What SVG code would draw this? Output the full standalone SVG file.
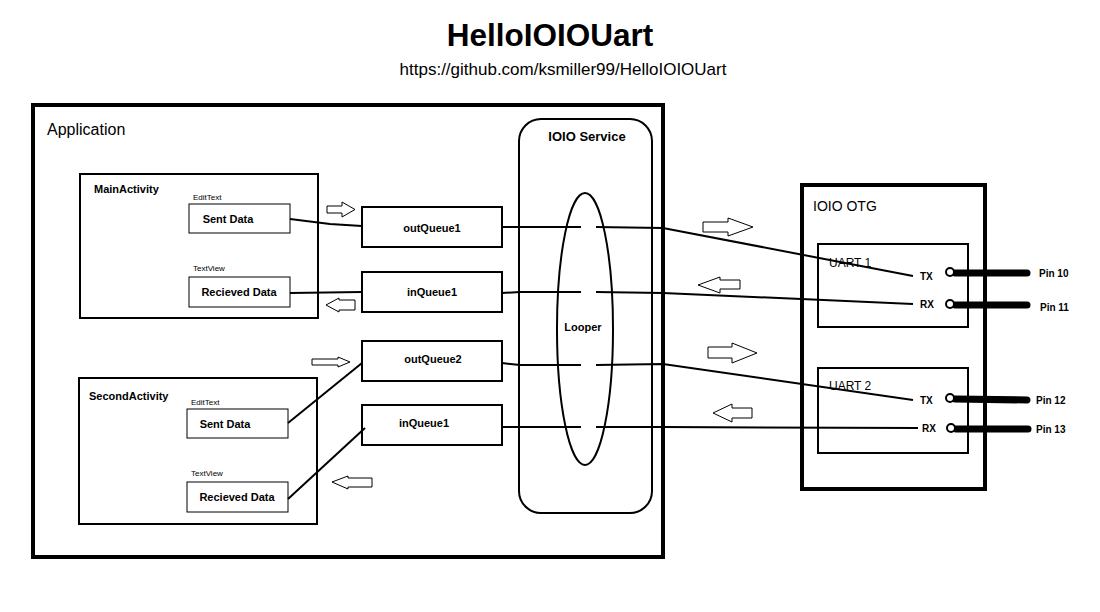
<svg xmlns="http://www.w3.org/2000/svg" width="1100" height="612" viewBox="0 0 1100 612">
<style>
text{font-family:"Liberation Sans",Arial,sans-serif;fill:#000}
.b{font-weight:bold}
.box{fill:#fff;stroke:#000;stroke-width:2}
.thin{fill:#fff;stroke:#000;stroke-width:1}
.heavy{fill:none;stroke:#000;stroke-width:4}
.ln{fill:none;stroke:#000;stroke-width:2}
.arr{fill:#fff;stroke:#000;stroke-width:1}
.pin{stroke:#000;stroke-width:7;stroke-linecap:round}
.dot{fill:#fff;stroke:#000;stroke-width:2}
.s11{font-size:11px}
.s8{font-size:8px}
</style>
<rect width="1100" height="612" fill="#fff"/>
<text x="550" y="46" text-anchor="middle" class="b" font-size="31.5">HelloIOIOUart</text>
<text x="563" y="75" text-anchor="middle" font-size="17">https://github.com/ksmiller99/HelloIOIOUart</text>

<g id="application">
<rect x="33" y="105" width="630" height="452" class="heavy"/>
<text x="47" y="135" font-size="16">Application</text>
</g>

<g id="mainactivity">
<rect x="80" y="174" width="238" height="144" class="box"/>
<text x="94" y="193" class="b s11">MainActivity</text>
<text x="193" y="200" class="s8">EditText</text>
<rect x="189" y="204" width="101" height="29" class="thin"/>
<text x="228" y="223" text-anchor="middle" class="b s11">Sent Data</text>
<text x="193" y="271" class="s8">TextView</text>
<rect x="189" y="277" width="101" height="30" class="thin"/>
<text x="239" y="296" text-anchor="middle" class="b s11">Recieved Data</text>
</g>

<g id="secondactivity">
<rect x="79" y="378" width="238" height="146" class="box"/>
<text x="89" y="400" class="b s11">SecondActivity</text>
<text x="191" y="405" class="s8">EditText</text>
<rect x="187" y="409" width="101" height="29" class="thin"/>
<text x="225" y="428" text-anchor="middle" class="b s11">Sent Data</text>
<text x="191" y="476" class="s8">TextView</text>
<rect x="187" y="482" width="101" height="30" class="thin"/>
<text x="237" y="501" text-anchor="middle" class="b s11">Recieved Data</text>
</g>

<g id="queues">
<g id="outQueue1"><rect x="362" y="207" width="140" height="40" class="box"/><text x="432" y="232" text-anchor="middle" class="b s11">outQueue1</text></g>
<g id="inQueue1a"><rect x="362" y="272" width="140" height="40" class="box"/><text x="432" y="296" text-anchor="middle" class="b s11">inQueue1</text></g>
<g id="outQueue2"><rect x="362" y="341" width="140" height="40" class="box"/><text x="433" y="363" text-anchor="middle" class="b s11">outQueue2</text></g>
<g id="inQueue1b"><rect x="362" y="405" width="140" height="40" class="box"/><text x="424" y="427" text-anchor="middle" class="b s11">inQueue1</text></g>
</g>

<g id="ioio-service">
<rect x="519" y="119" width="133" height="394" rx="22" ry="22" fill="none" stroke="#000" stroke-width="2"/>
<text x="587" y="141" text-anchor="middle" class="b" font-size="13">IOIO Service</text>
<ellipse cx="585" cy="329" rx="28" ry="136" fill="none" stroke="#000" stroke-width="2"/>
<text x="583" y="331" text-anchor="middle" class="b s11">Looper</text>
</g>

<g id="ioio-otg">
<rect x="802" y="185" width="183" height="304" class="heavy"/>
<text x="813" y="211" font-size="14">IOIO OTG</text>
<g id="uart1">
<rect x="818" y="244" width="150" height="83" class="box"/>
<text x="829" y="267" font-size="12">UART 1</text>
<text x="920" y="280" class="b" font-size="10">TX</text>
<text x="920" y="308" class="b" font-size="10">RX</text>
<line x1="955" y1="273" x2="1027" y2="273" class="pin"/>
<line x1="955" y1="305" x2="1027" y2="305" class="pin"/>
<circle cx="950" cy="272" r="4" class="dot"/>
<circle cx="950" cy="304" r="4" class="dot"/>
<text x="1039" y="277" class="b" font-size="10">Pin 10</text>
<text x="1040" y="311" class="b" font-size="10">Pin 11</text>
</g>
<g id="uart2">
<rect x="818" y="368" width="150" height="85" class="box"/>
<text x="829" y="390" font-size="12">UART 2</text>
<text x="920" y="404" class="b" font-size="10">TX</text>
<text x="922" y="432" class="b" font-size="10">RX</text>
<line x1="955" y1="399" x2="1027" y2="400" class="pin"/>
<line x1="956" y1="429" x2="1028" y2="429" class="pin"/>
<circle cx="950" cy="398" r="4" class="dot"/>
<circle cx="951" cy="428" r="4" class="dot"/>
<text x="1036" y="404" class="b" font-size="10">Pin 12</text>
<text x="1036" y="433" class="b" font-size="10">Pin 13</text>
</g>
</g>

<g id="connectors">
<polyline points="290,219 330,224 362,226" class="ln"/>
<line x1="290" y1="293" x2="362" y2="292" class="ln"/>
<line x1="288" y1="423" x2="362" y2="363" class="ln"/>
<line x1="288" y1="499" x2="365" y2="428" class="ln"/>
<line x1="502" y1="227" x2="581" y2="227" class="ln"/>
<polyline points="596,227 663,228 913,276" class="ln"/>
<polyline points="502,293 520,292 581,292" class="ln"/>
<polyline points="596,292 663,293 913,304" class="ln"/>
<polyline points="502,363 520,365 581,365" class="ln"/>
<polyline points="596,365 663,364 913,400" class="ln"/>
<line x1="502" y1="427" x2="581" y2="427" class="ln"/>
<polyline points="596,427 663,427 918,428" class="ln"/>
</g>

<g id="flow-arrows">
<polygon points="327,206 342,206 342,202 355,209.5 342,217 342,213 327,213" class="arr"/>
<polygon points="326,305 339,298 339,300 355,300 355,310 339,310 339,312" class="arr"/>
<polygon points="312,359 338,359 338,357 350,362 338,367 338,365 312,365" class="arr"/>
<polygon points="332,482 348,476 348,478 372,478 372,487 348,487 348,489" class="arr"/>
<polygon points="703,222 728,222 728,218 753,227 728,236 728,232 703,232" class="arr" stroke-width="2"/>
<polygon points="698,285 720,277 720,280 740,280 740,289 720,289 720,293" class="arr" stroke-width="2"/>
<polygon points="708,347 732,347 732,343 757,353 732,363 732,358 708,358" class="arr" stroke-width="2"/>
<polygon points="713,413 732,404 732,408 752,408 752,418 732,418 732,422" class="arr" stroke-width="2"/>
</g>
</svg>
